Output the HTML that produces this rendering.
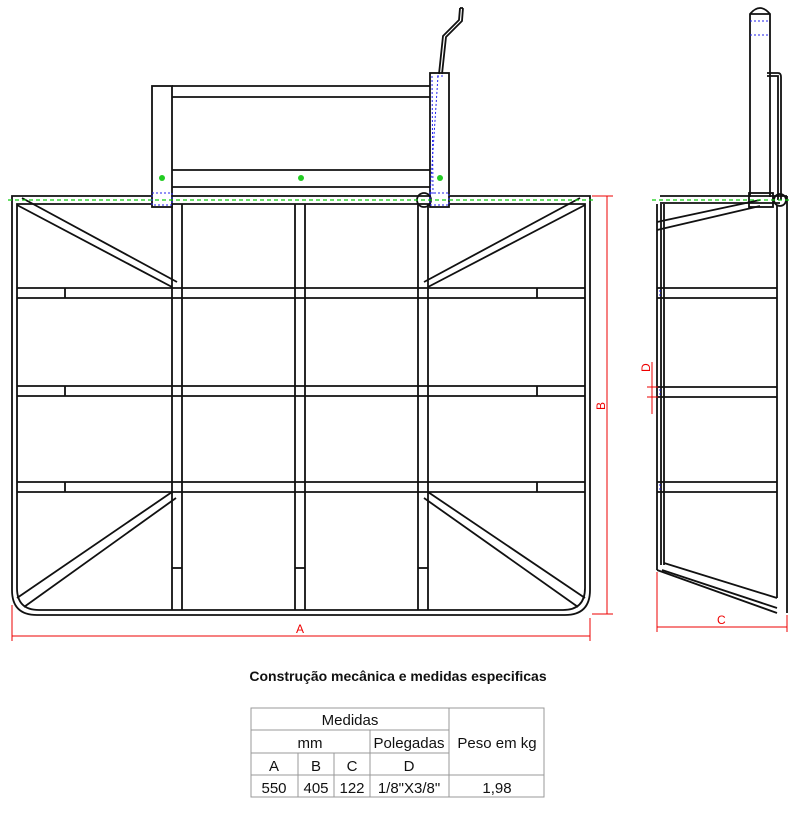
<!DOCTYPE html>
<html><head><meta charset="utf-8"><style>
body{margin:0;background:#fff;width:800px;height:822px;overflow:hidden}
svg{display:block}
</style></head><body>
<svg width="800" height="822" viewBox="0 0 800 822" xmlns="http://www.w3.org/2000/svg">
<g fill="none" stroke="#111" stroke-width="1.8">
<path d="M12 196 H590 V590 Q590 615 565 615 H37 Q12 615 12 590 Z"/>
<path d="M17 204 H585 V588 Q585 610 563 610 H39 Q17 610 17 588 Z"/>
<line x1="172" y1="204" x2="172" y2="610"/><line x1="182" y1="204" x2="182" y2="610"/>
<line x1="295" y1="204" x2="295" y2="610"/><line x1="305" y1="204" x2="305" y2="610"/>
<line x1="418" y1="204" x2="418" y2="610"/><line x1="428" y1="204" x2="428" y2="610"/>
<line x1="17" y1="288" x2="585" y2="288"/><line x1="17" y1="298" x2="585" y2="298"/>
<line x1="17" y1="386" x2="585" y2="386"/><line x1="17" y1="396" x2="585" y2="396"/>
<line x1="17" y1="482" x2="585" y2="482"/><line x1="17" y1="492" x2="585" y2="492"/>
<line x1="17" y1="205" x2="172" y2="287"/><line x1="22" y1="198" x2="177" y2="282"/>
<line x1="585" y1="205" x2="428" y2="287"/><line x1="580" y1="198" x2="424" y2="282"/>
<line x1="17" y1="598" x2="172" y2="492"/><line x1="24" y1="607" x2="176" y2="498"/>
<line x1="585" y1="598" x2="428" y2="492"/><line x1="578" y1="607" x2="424" y2="498"/>
<line x1="65" y1="288" x2="65" y2="298"/><line x1="537" y1="288" x2="537" y2="298"/>
<line x1="65" y1="386" x2="65" y2="396"/><line x1="537" y1="386" x2="537" y2="396"/>
<line x1="65" y1="482" x2="65" y2="492"/><line x1="537" y1="482" x2="537" y2="492"/>
<line x1="172" y1="568" x2="182" y2="568"/><line x1="295" y1="568" x2="305" y2="568"/><line x1="418" y1="568" x2="428" y2="568"/>
<rect x="152" y="86" width="20" height="121" fill="#fff"/>
<rect x="430" y="73" width="19" height="134" fill="#fff"/>
<line x1="172" y1="86" x2="430" y2="86"/><line x1="172" y1="97" x2="430" y2="97"/>
<line x1="172" y1="170" x2="430" y2="170"/><line x1="172" y1="187" x2="430" y2="187"/>
<circle cx="424" cy="200" r="7"/>
<path d="M439 74 L443 36 L459 20 L460 8 M442 74 L446 37 L462 21 L463 8 M460 8 H463"/>
<path d="M750 197 V14 Q760 2 770 14 V197"/>
<line x1="750" y1="14" x2="770" y2="14"/>
<path d="M767 73 H778 Q781 73 781 77 V200 M767 76 H778 V200"/>
<line x1="660" y1="196" x2="787" y2="196"/><line x1="660" y1="203" x2="780" y2="203"/>
<path d="M657 204 V570 M661 204 V565 M664 204 V565"/>
<path d="M777 205 V598 M787 196 V613"/>
<line x1="657" y1="222" x2="760" y2="200"/><line x1="657" y1="230" x2="760" y2="206"/>
<line x1="657" y1="288" x2="777" y2="288"/><line x1="657" y1="298" x2="777" y2="298"/>
<line x1="657" y1="387" x2="777" y2="387"/><line x1="657" y1="397" x2="777" y2="397"/>
<line x1="657" y1="482" x2="777" y2="482"/><line x1="657" y1="492" x2="777" y2="492"/>
<line x1="664" y1="563" x2="777" y2="598"/><line x1="657" y1="570" x2="777" y2="613"/><line x1="662" y1="570" x2="777" y2="608"/>
<rect x="749" y="193" width="24" height="14"/>
<circle cx="780" cy="200" r="6"/>
</g>
<g stroke="#1c1" stroke-width="1.2" stroke-dasharray="4,3">
<line x1="8" y1="200" x2="596" y2="200"/><line x1="652" y1="200" x2="792" y2="200"/>
</g>
<g fill="#2c2"><circle cx="162" cy="178" r="3"/><circle cx="301" cy="178" r="3"/><circle cx="440" cy="178" r="3"/></g>
<g stroke="#22e" stroke-width="1" stroke-dasharray="2,2" fill="none">
<line x1="432" y1="76" x2="433" y2="195"/><line x1="437" y1="76" x2="445" y2="76"/><line x1="438" y1="76" x2="430" y2="195"/>
<rect x="152" y="193" width="20" height="12"/><rect x="430" y="193" width="19" height="12"/>
<line x1="750" y1="21" x2="770" y2="21"/><line x1="750" y1="35" x2="770" y2="35"/>
<line x1="660" y1="290" x2="660" y2="298"/><line x1="660" y1="389" x2="660" y2="397"/><line x1="660" y1="484" x2="660" y2="492"/>
</g>
<g stroke="#e00" stroke-width="1" fill="none">
<line x1="12" y1="605" x2="12" y2="641"/><line x1="590" y1="618" x2="590" y2="641"/>
<line x1="12" y1="636" x2="590" y2="636"/>
<line x1="592" y1="196" x2="613" y2="196"/><line x1="592" y1="614" x2="613" y2="614"/>
<line x1="607" y1="196" x2="607" y2="614"/>
<line x1="657" y1="572" x2="657" y2="632"/><line x1="787" y1="615" x2="787" y2="632"/>
<line x1="657" y1="627" x2="787" y2="627"/>
<line x1="652" y1="362" x2="652" y2="414"/><line x1="647" y1="387" x2="658" y2="387"/><line x1="647" y1="397" x2="658" y2="397"/>
</g>
<g fill="#e00" font-family="Liberation Sans, sans-serif" font-size="12">
<text x="296" y="633">A</text><text x="717" y="624">C</text>
<text transform="translate(605,410) rotate(-90)">B</text>
<text transform="translate(650,372) rotate(-90)">D</text>
</g>
<g font-family="Liberation Sans, sans-serif" fill="#111">
<text x="398" y="681" font-size="14" font-weight="bold" text-anchor="middle">Construção mecânica e medidas  especificas</text>
<g stroke="#999" stroke-width="1" fill="none">
<rect x="251" y="708" width="293" height="89"/>
<line x1="251" y1="730" x2="449" y2="730"/><line x1="251" y1="753" x2="449" y2="753"/><line x1="251" y1="775" x2="544" y2="775"/>
<line x1="449" y1="708" x2="449" y2="797"/><line x1="370" y1="730" x2="370" y2="797"/>
<line x1="298" y1="753" x2="298" y2="797"/><line x1="334" y1="753" x2="334" y2="797"/>
</g>
<g font-size="15" text-anchor="middle">
<text x="350" y="725">Medidas</text>
<text x="310" y="748">mm</text><text x="409" y="748">Polegadas</text>
<text x="497" y="748">Peso em kg</text>
<text x="274" y="771">A</text><text x="316" y="771">B</text><text x="352" y="771">C</text><text x="409" y="771">D</text>
<text x="274" y="793">550</text><text x="316" y="793">405</text><text x="352" y="793">122</text><text x="409" y="793">1/8"X3/8"</text><text x="497" y="793">1,98</text>
</g>
</g>
</svg>
</body></html>
